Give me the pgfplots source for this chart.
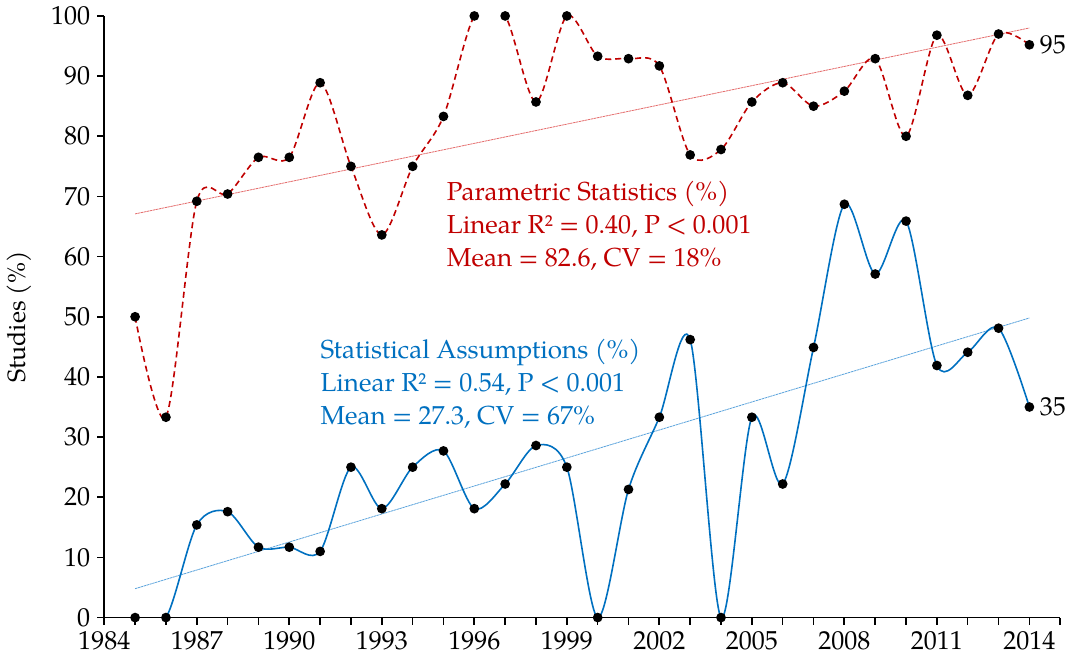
\documentclass[border=0pt]{standalone}
\usepackage{fontspec}
\setmainfont{TeX Gyre Pagella}
\usepackage{pgfplots}
\pgfplotsset{compat=1.18}
\definecolor{pred}{HTML}{C00000}
\definecolor{pblue}{HTML}{0070C0}
\definecolor{tred}{HTML}{E46C6C}
\definecolor{tblue}{HTML}{5BA3DC}

\begin{document}
\begin{tikzpicture}
\begin{axis}[
    scale only axis,
    width=477.5pt, height=300.5pt,
    xmin=1984, xmax=2015, ymin=0, ymax=100,
    axis lines*=left,
    axis line style={line width=0.8pt},
    tick align=outside,
    tick style={black, line width=0.8pt},
    major tick length=3.5pt, minor tick length=3.5pt,
    xtick={1984,1987,...,2014},
    minor xtick={1984,...,2015},
    ytick={0,10,...,100},
    /pgf/number format/1000 sep={},
    /pgf/number format/assume math mode=true,
    tick label style={font=\fontsize{13}{13}\selectfont},
    ylabel={Studies (\%)},
    ylabel style={font=\fontsize{12.5}{12.5}\selectfont, yshift=3pt},
    clip mode=individual,
]
% trend lines
\addplot[tred, line width=0.4pt, dash pattern=on 1.2pt off 0.3pt] coordinates {(1985,67.1) (2014,98.0)};
\addplot[tblue, line width=0.4pt, dash pattern=on 1.2pt off 0.3pt] coordinates {(1985,4.8) (2014,49.8)};

% Parametric statistics
\addplot[pred, line width=0.8pt, dash pattern=on 3pt off 2pt, smooth,
  mark=*, mark size=2pt, mark options={solid, black, fill=black}] coordinates {
 (1985,50.0) (1986,33.3) (1987,69.2) (1988,70.4) (1989,76.5) (1990,76.5)
 (1991,88.9) (1992,75.0) (1993,63.6) (1994,75.0) (1995,83.3) (1996,100)
 (1997,100) (1998,85.7) (1999,100) (2000,93.3) (2001,92.9) (2002,91.7)
 (2003,76.9) (2004,77.8) (2005,85.7) (2006,88.9) (2007,85.0) (2008,87.5)
 (2009,92.9) (2010,80.0) (2011,96.8) (2012,86.8) (2013,97.0) (2014,95.2)
};

% Statistical assumptions
\addplot[pblue, line width=0.8pt, smooth,
  mark=*, mark size=2pt, mark options={black, fill=black}] coordinates {
 (1985,0) (1986,0) (1987,15.4) (1988,17.6) (1989,11.7) (1990,11.7)
 (1991,11.0) (1992,25.0) (1993,18.1) (1994,25.0) (1995,27.7) (1996,18.1)
 (1997,22.2) (1998,28.6) (1999,25.0) (2000,0) (2001,21.3) (2002,33.3)
 (2003,46.2) (2004,0) (2005,33.3) (2006,22.2) (2007,44.9) (2008,68.7)
 (2009,57.1) (2010,65.9) (2011,41.9) (2012,44.1) (2013,48.1) (2014,35.0)
};

\node[anchor=west, inner sep=0pt, font=\fontsize{13}{13}\selectfont] at (axis cs:2014.33,95.2) {95};
\node[anchor=west, inner sep=0pt, font=\fontsize{13}{13}\selectfont] at (axis cs:2014.33,35.0) {35};

\node[anchor=west, align=left, inner sep=0pt, text=pred,
  font=\fontsize{13}{16.5}\selectfont] at (axis cs:1995.1,65.1)
  {Parametric Statistics (\%)\\Linear R² = 0.40, P < 0.001\\Mean = 82.6, CV = 18\%};
\node[anchor=west, align=left, inner sep=0pt, text=pblue,
  font=\fontsize{13}{16.5}\selectfont] at (axis cs:1991.0,38.8)
  {Statistical Assumptions (\%)\\Linear R² = 0.54, P < 0.001\\Mean = 27.3, CV = 67\%};
\end{axis}
\end{tikzpicture}
\end{document}
